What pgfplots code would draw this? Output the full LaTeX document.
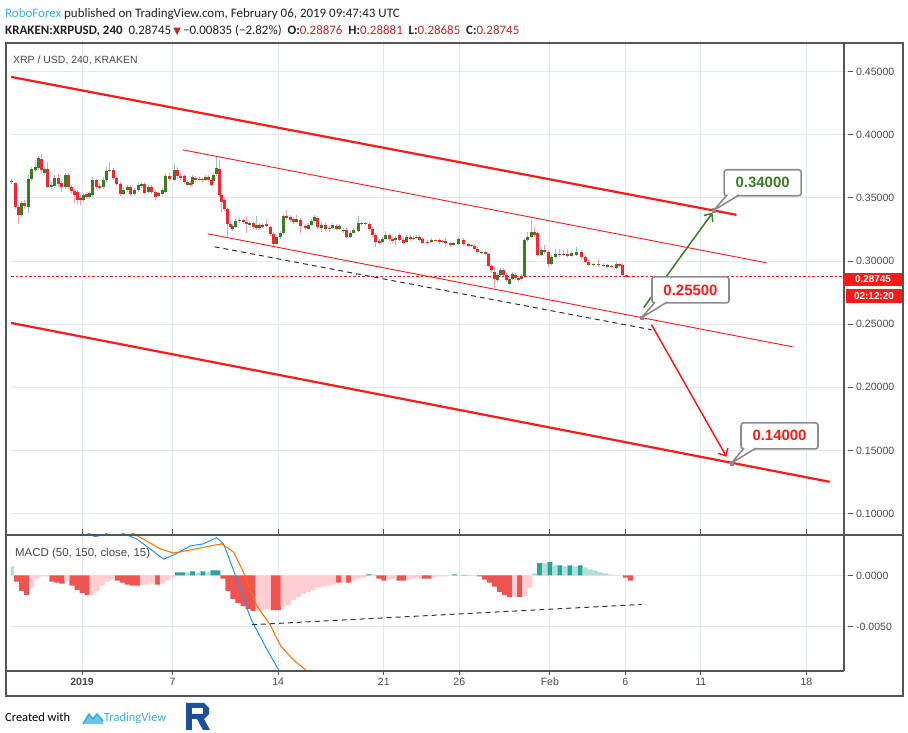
\documentclass[border=0pt]{standalone}
\usepackage{pgfplots}
\pgfplotsset{compat=1.18}
\usepackage{pgfplotstable}
\usepackage{fontspec}
\setmainfont{Liberation Sans}
\newfontfamily\calib{Carlito}
\newfontfamily\djv{DejaVu Sans}
\usetikzlibrary{arrows.meta}

\definecolor{upc}{HTML}{3A7D22}
\definecolor{dnc}{HTML}{F7262E}
\definecolor{upw}{HTML}{9EC4C8}
\definecolor{dnw}{HTML}{F5A0A8}
\definecolor{gridc}{HTML}{E1EAF1}
\definecolor{framec}{HTML}{555555}
\definecolor{txt}{HTML}{4A4A4A}
\definecolor{tvblue}{HTML}{3CB0E4}
\definecolor{hdr}{HTML}{EF5350}
\definecolor{hpk}{HTML}{FFCDD2}
\definecolor{htl}{HTML}{26A69A}
\definecolor{hlt}{HTML}{B2DFDB}
\definecolor{macdc}{HTML}{2196F3}
\definecolor{sigc}{HTML}{FF6D00}
\definecolor{hred}{HTML}{C62828}
\definecolor{trend}{HTML}{FF1A1A}
\definecolor{boxc}{HTML}{8C8C8C}
\definecolor{rlogo}{HTML}{1E4F9C}
\definecolor{headtxt}{HTML}{222222}

% 4h candles, XRP/USD (x = days since 1 Jan 2019)
\pgfplotstableread{
d o h l c
-4.67 .3627 .3650 .3611 .3635
-4.01 .3365 .3476 .3350 .3460
-3.55 .3429 .3682 .3381 .3650
-3.35 .3650 .3746 .3635 .3730
-3.08 .3722 .3801 .3706 .3746
-2.88 .3738 .3833 .3722 .3817
-2.49 .3698 .3746 .3682 .3730
-2.02 .3587 .3627 .3571 .3603
-1.82 .3595 .3682 .3579 .3658
-1.09 .3587 .3698 .3571 .3682
0.10 .3484 .3540 .3468 .3524
0.50 .3508 .3555 .3492 .3540
0.70 .3524 .3666 .3508 .3643
1.42 .3587 .3666 .3571 .3643
1.62 .3643 .3746 .3627 .3714
1.82 .3714 .3785 .3706 .3722
2.75 .3532 .3587 .3524 .3563
3.02 .3563 .3603 .3548 .3587
3.48 .3532 .3579 .3516 .3563
3.75 .3563 .3619 .3548 .3603
3.94 .3595 .3627 .3579 .3611
4.41 .3548 .3603 .3532 .3587
5.07 .3516 .3548 .3508 .3540
5.33 .3532 .3579 .3516 .3563
5.53 .3548 .3690 .3540 .3674
6.13 .3643 .3769 .3635 .3722
6.99 .3603 .3643 .3595 .3627
7.32 .3611 .3682 .3595 .3666
7.79 .3643 .3666 .3635 .3650
8.18 .3643 .3682 .3635 .3666
8.71 .3635 .3698 .3619 .3682
8.91 .3690 .3825 .3674 .3738
9.97 .3254 .3294 .3239 .3278
10.17 .3270 .3334 .3262 .3318
10.44 .3318 .3342 .3302 .3326
11.10 .3286 .3318 .3278 .3302
11.56 .3262 .3357 .3247 .3286
11.96 .3270 .3302 .3262 .3286
12.89 .3136 .3207 .3128 .3191
13.16 .3191 .3239 .3175 .3223
13.35 .3223 .3373 .3207 .3357
14.21 .3310 .3365 .3302 .3334
15.01 .3254 .3302 .3247 .3286
15.21 .3286 .3334 .3278 .3318
15.41 .3318 .3365 .3302 .3350
15.87 .3262 .3310 .3231 .3286
16.40 .3254 .3278 .3231 .3262
16.60 .3262 .3302 .3254 .3286
17.06 .3254 .3294 .3247 .3278
17.33 .3239 .3262 .3223 .3247
17.79 .3191 .3239 .3183 .3223
17.99 .3223 .3262 .3215 .3247
18.32 .3239 .3357 .3231 .3302
19.91 .3152 .3191 .3144 .3175
20.11 .3175 .3239 .3167 .3207
20.78 .3167 .3199 .3128 .3183
21.50 .3152 .3207 .3144 .3191
21.97 .3175 .3199 .3167 .3183
22.17 .3183 .3207 .3175 .3191
23.16 .3152 .3183 .3144 .3167
24.62 .3128 .3152 .3120 .3144
24.95 .3136 .3191 .3128 .3175
26.47 .3064 .3080 .3056 .3072
27.54 .2851 .2906 .2835 .2890
27.73 .2890 .2946 .2874 .2930
28.33 .2819 .2874 .2811 .2858
28.53 .2858 .2914 .2851 .2898
29.13 .2858 .2898 .2843 .2882
29.33 .2882 .3183 .2866 .3167
29.53 .3167 .3231 .3152 .3191
29.79 .3191 .3326 .3183 .3231
30.45 .3049 .3112 .3041 .3088
31.11 .2977 .3049 .2969 .3033
31.38 .3033 .3096 .3025 .3056
31.91 .3049 .3088 .3041 .3056
32.44 .3041 .3080 .3033 .3064
32.77 .3049 .3112 .3041 .3072
33.90 .2969 .2985 .2961 .2977
34.82 .2954 .2977 .2946 .2969
35.42 .2946 .2993 .2938 .2977
}\up
\pgfplotstableread{
d o h l c
-4.41 .3619 .3627 .3413 .3429
-4.21 .3429 .3445 .3294 .3365
-3.81 .3460 .3484 .3413 .3437
-2.68 .3809 .3848 .3698 .3722
-2.29 .3730 .3785 .3579 .3587
-1.56 .3658 .3690 .3587 .3611
-1.36 .3619 .3635 .3548 .3587
-0.89 .3682 .3698 .3571 .3587
-0.70 .3587 .3603 .3532 .3555
-0.50 .3555 .3571 .3460 .3524
-0.30 .3548 .3563 .3452 .3484
-0.10 .3500 .3524 .3445 .3484
0.30 .3532 .3548 .3492 .3508
0.96 .3643 .3650 .3571 .3587
1.16 .3595 .3619 .3563 .3579
2.09 .3722 .3738 .3643 .3658
2.29 .3658 .3666 .3595 .3611
2.55 .3611 .3627 .3516 .3532
3.21 .3587 .3603 .3516 .3532
4.14 .3611 .3627 .3532 .3540
4.61 .3587 .3603 .3532 .3548
4.87 .3548 .3563 .3484 .3508
5.80 .3674 .3698 .3635 .3650
6.33 .3722 .3746 .3650 .3674
6.53 .3674 .3698 .3643 .3658
6.79 .3674 .3690 .3611 .3627
7.19 .3619 .3635 .3587 .3603
7.52 .3658 .3674 .3627 .3643
7.99 .3650 .3658 .3627 .3643
8.38 .3666 .3682 .3627 .3643
8.58 .3643 .3658 .3595 .3603
9.11 .3730 .3801 .3508 .3524
9.24 .3524 .3540 .3389 .3468
9.44 .3484 .3508 .3397 .3413
9.64 .3413 .3429 .3191 .3294
9.84 .3294 .3310 .3254 .3270
10.70 .3326 .3334 .3294 .3310
10.90 .3310 .3357 .3223 .3294
11.37 .3302 .3318 .3254 .3270
11.76 .3286 .3302 .3247 .3262
12.23 .3294 .3334 .3270 .3278
12.49 .3270 .3286 .3199 .3215
12.69 .3215 .3231 .3120 .3136
13.55 .3357 .3405 .3326 .3342
13.82 .3350 .3365 .3310 .3326
14.02 .3334 .3350 .3294 .3310
14.48 .3326 .3342 .3223 .3278
14.81 .3278 .3294 .3247 .3262
15.61 .3342 .3357 .3254 .3270
16.14 .3286 .3302 .3239 .3254
16.87 .3278 .3294 .3247 .3254
17.53 .3247 .3262 .3183 .3191
18.52 .3302 .3310 .3286 .3294
18.79 .3302 .3310 .3286 .3294
19.05 .3294 .3310 .3239 .3254
19.25 .3254 .3270 .3191 .3207
19.45 .3207 .3223 .3112 .3152
19.72 .3160 .3175 .3128 .3144
20.38 .3207 .3223 .3160 .3175
20.58 .3175 .3183 .3144 .3160
21.04 .3207 .3223 .3160 .3167
21.31 .3167 .3183 .3136 .3144
21.77 .3191 .3207 .3160 .3175
22.37 .3191 .3207 .3152 .3167
22.57 .3175 .3191 .3136 .3144
22.90 .3152 .3167 .3128 .3144
23.43 .3167 .3175 .3152 .3160
23.69 .3167 .3183 .3136 .3152
23.89 .3160 .3167 .3144 .3152
24.09 .3160 .3183 .3112 .3144
24.42 .3144 .3152 .3112 .3128
25.28 .3167 .3183 .3120 .3136
25.61 .3136 .3144 .3112 .3120
25.81 .3128 .3136 .3112 .3120
26.01 .3120 .3136 .3088 .3096
26.21 .3096 .3112 .3064 .3072
26.74 .3072 .3080 .3049 .3056
26.94 .3056 .3064 .2954 .2961
27.14 .2961 .2977 .2906 .2930
27.34 .2914 .2954 .2795 .2858
27.93 .2930 .2946 .2874 .2890
28.13 .2890 .2906 .2835 .2851
28.73 .2890 .2906 .2851 .2866
28.93 .2866 .2882 .2835 .2851
29.99 .3231 .3270 .3191 .3207
30.19 .3223 .3239 .3033 .3049
30.65 .3088 .3128 .3056 .3072
30.92 .3072 .3088 .2954 .2977
31.64 .3056 .3096 .3033 .3049
32.17 .3056 .3096 .3025 .3041
33.10 .3072 .3088 .3017 .3033
33.37 .3033 .3049 .2985 .2993
33.57 .2993 .3009 .2961 .2969
34.23 .2977 .3017 .2954 .2969
34.56 .2969 .2985 .2954 .2961
35.09 .2961 .2969 .2946 .2954
35.62 .2977 .2985 .2954 .2961
35.82 .2969 .2985 .2882 .2890
36.08 .28876 .28881 .28685 .28745
}\dn

% MACD histogram, by colour
\pgfplotstableread{
d v
-4.33 -0.0006
-4.00 -0.0015
-3.67 -0.0019
-2.00 -0.0006
-1.67 -0.0007
-1.33 -0.0008
-0.67 -0.0010
-0.33 -0.0014
0.00 -0.0017
0.33 -0.0019
2.33 -0.0005
2.67 -0.0007
3.00 -0.0009
3.33 -0.0010
3.67 -0.0010
5.00 -0.0009
9.33 -0.0003
9.67 -0.0015
10.00 -0.0023
10.33 -0.0027
10.67 -0.0030
11.00 -0.0033
11.33 -0.0035
12.67 -0.0034
13.00 -0.0034
17.00 -0.0007
17.67 -0.0007
19.67 -0.0003
20.00 -0.0005
21.00 -0.0005
21.33 -0.0005
22.67 -0.0003
23.00 -0.0003
26.33 -0.0001
26.67 -0.0004
27.00 -0.0007
27.33 -0.0011
27.67 -0.0016
28.00 -0.0019
28.33 -0.0021
29.00 -0.0021
36.00 -0.0002
36.33 -0.0005
}\hdr
\pgfplotstableread{
d v
-3.33 -0.0012
-3.00 -0.0003
-2.67 -0.0001
-2.33 -0.0001
-1.00 -0.0005
0.67 -0.0019
1.00 -0.0015
1.33 -0.0010
1.67 -0.0006
2.00 -0.0004
4.00 -0.0009
4.33 -0.0009
4.67 -0.0008
5.33 -0.0008
5.67 -0.0005
6.00 -0.0002
11.67 -0.0035
12.00 -0.0034
12.33 -0.0033
13.33 -0.0031
13.67 -0.0029
14.00 -0.0024
14.33 -0.0021
14.67 -0.0018
15.00 -0.0016
15.33 -0.0014
15.67 -0.0012
16.00 -0.0011
16.33 -0.0010
16.67 -0.0009
17.33 -0.0006
18.00 -0.0005
18.33 -0.0003
18.67 -0.0002
20.33 -0.0004
20.67 -0.0003
21.67 -0.0004
22.00 -0.0003
22.33 -0.0003
23.33 -0.0002
23.67 -0.0001
24.00 -0.0001
24.33 -0.00005
28.67 -0.0021
29.33 -0.0020
29.67 -0.0012
}\hpk
\pgfplotstableread{
d v
6.33 0.0003
6.67 0.0003
7.33 0.0004
8.00 0.0004
8.67 0.0005
9.00 0.0005
19.00 0.0001
24.67 0.0001
25.33 0.00005
30.33 0.0012
31.00 0.0013
31.67 0.0010
32.33 0.0010
33.00 0.0010
}\htl
\pgfplotstableread{
d v
-4.67 0.0009
7.00 0.0003
7.67 0.0003
8.33 0.0003
19.33 0.0001
25.00 0.00005
25.67 0.00005
26.00 0.00003
30.00 0.0002
30.67 0.0012
31.33 0.0010
32.00 0.0009
32.67 0.0009
33.33 0.0008
33.67 0.0006
34.00 0.0005
34.33 0.0003
34.67 0.0002
35.00 0.0001
35.33 0.00003
}\hlt

\pgfplotsset{
  tvaxis/.style={
    scale only axis, width=837bp, anchor=south west,
    xmin=-4.738, xmax=50.73,
    axis line style={draw=none},
    grid=major, major grid style={gridc, line width=0.8bp},
    xtick={0,6,13,20,25,31,36,41,48},
    ytick pos=right, yticklabel pos=right,
    tick align=outside, major tick length=5bp,
    tick style={framec, line width=0.8bp},
    scaled y ticks=false,
    /pgf/number format/assume math mode=true,
    tick label style={font=\fontsize{10.6}{12}\selectfont, text=txt},
  },
  candle/.style={draw=none, forget plot,
    error bars/.cd, y dir=plus, y explicit, error mark=none,
    error bar style={solid, draw=#1}},
}
\tikzset{
  callout/.style={draw=boxc, line width=1.6bp, fill=white, rounded corners=2.5bp,
    minimum width=77bp, minimum height=26bp, inner sep=0pt,
    font=\bfseries\fontsize{15}{17}\selectfont},
}

\begin{document}
\begin{tikzpicture}[x=1bp, y=1bp]
\useasboundingbox (0,0) rectangle (908,733);
\fill[white] (0,0) rectangle (908,733);

% ---------- price panel ----------
\begin{axis}[tvaxis, at={(7,159.3)}, height=492bp, clip=false,
  ymin=0.0855, ymax=0.4751,
  xticklabels={}, x tick style={draw=none},
  ytick={0.10,0.15,0.20,0.25,0.30,0.35,0.40,0.45},
  yticklabel style={/pgf/number format/.cd, fixed, fixed zerofill, precision=5},
]
% wicks
\addplot[candle=upw, error bar style={line width=0.9bp}] table[x=d, y=l, y error plus expr=\thisrow{h}-\thisrow{l}] {\up};
\addplot[candle=dnw, error bar style={line width=0.9bp}] table[x=d, y=l, y error plus expr=\thisrow{h}-\thisrow{l}] {\dn};
% bodies
\addplot[candle=upc, error bar style={line width=2.6bp}] table[x=d, y=o, y error plus expr=\thisrow{c}-\thisrow{o}] {\up};
\addplot[candle=dnc, error bar style={line width=2.6bp}] table[x=d, y=c, y error plus expr=\thisrow{o}-\thisrow{c}] {\dn};

% last price line
\addplot[trend, line width=0.9bp, dash pattern=on 2.5bp off 2bp] coordinates {(-4.70,0.28745) (50.70,0.28745)};

% channels
\addplot[trend, line width=2.2bp] coordinates {(-4.70,0.4457) (43.37,0.3365)};
\addplot[trend, line width=2.2bp] coordinates {(-4.70,0.2509) (49.54,0.1251)};
\addplot[trend, line width=0.9bp] coordinates {(6.66,0.3880) (45.36,0.2985)};
\addplot[trend, line width=0.9bp] coordinates {(8.32,0.3215) (47.09,0.2320)};
\addplot[black!80, line width=1bp, dash pattern=on 5bp off 4bp] coordinates {(8.78,0.3112) (37.74,0.2455)};

% arrows
\addplot[upc, line width=1.5bp, -{Straight Barb[length=6bp,width=11bp]}] coordinates {(37.21,0.2629) (41.78,0.3381)};
\addplot[trend, line width=1.5bp, -{Straight Barb[length=6bp,width=11bp]}] coordinates {(37.74,0.2494) (42.71,0.1449)};

% callouts
\node[callout, text=upc] at (axis cs:45.10,0.3619) {0.34000};
\node[callout, text=trend] at (axis cs:40.32,0.2771) {0.25500};
\node[callout, text=trend] at (axis cs:46.22,0.1615) {0.14000};
\fill[white] (axis cs:42.75,0.3528) -- (axis cs:41.85,0.3400) -- (axis cs:43.54,0.3528) -- cycle;
\draw[boxc, line width=1.6bp, line join=round] (axis cs:42.75,0.3522) -- (axis cs:41.85,0.3400) -- (axis cs:43.54,0.3522);
\fill[white] (axis cs:37.97,0.2680) -- (axis cs:37.08,0.2550) -- (axis cs:38.76,0.2680) -- cycle;
\draw[boxc, line width=1.6bp, line join=round] (axis cs:37.97,0.2674) -- (axis cs:37.08,0.2550) -- (axis cs:38.76,0.2674);
\fill[white] (axis cs:43.87,0.1524) -- (axis cs:43.04,0.1400) -- (axis cs:44.66,0.1524) -- cycle;
\draw[boxc, line width=1.6bp, line join=round] (axis cs:43.87,0.1518) -- (axis cs:43.04,0.1400) -- (axis cs:44.66,0.1518);
\addplot[only marks, mark=square*, mark size=1.8bp, color=boxc] coordinates {(41.85,0.3400) (37.08,0.2550) (43.04,0.1400)};
\end{axis}

% ---------- MACD panel ----------
\begin{axis}[tvaxis, at={(7,62)}, height=136bp,
  ymin=-0.00924, ymax=0.00409,
  xticklabels={\textbf{2019},7,14,21,26,Feb,6,11,18},
  ytick={-0.005,0},
  yticklabel style={/pgf/number format/.cd, fixed, fixed zerofill, precision=4},
]
\addplot[ybar, bar width=0.335, bar shift=0pt, fill=hdr, draw=none] table[x=d, y=v] {\hdr};
\addplot[ybar, bar width=0.335, bar shift=0pt, fill=hpk, draw=none] table[x=d, y=v] {\hpk};
\addplot[ybar, bar width=0.335, bar shift=0pt, fill=htl, draw=none] table[x=d, y=v] {\htl};
\addplot[ybar, bar width=0.335, bar shift=0pt, fill=hlt, draw=none] table[x=d, y=v] {\hlt};
% MACD line
\addplot[macdc, line width=1bp] coordinates {
(-1.5,0.0052) (0.50,0.0041) (0.83,0.0038) (1.16,0.0039) (1.49,0.0040) (2.09,0.0046)
(2.75,0.0041) (3.61,0.0036) (5.40,0.0016) (6.06,0.0020) (7.19,0.0029) (8.05,0.0031)
(8.91,0.0037) (9.38,0.0031) (10.24,-0.0003) (11.17,-0.0042) (12.23,-0.0072)
(12.89,-0.0089) (13.35,-0.0101)};
% signal line
\addplot[sigc, line width=1bp] coordinates {
(-1.23,0.0058) (1.42,0.0052) (3.41,0.0041) (5.20,0.0026) (6.06,0.0022) (7.19,0.0025)
(8.52,0.0029) (9.24,0.0031) (10.04,0.0023) (10.70,0.0003) (11.56,-0.0029)
(12.49,-0.0049) (13.16,-0.0069) (14.02,-0.0083) (14.68,-0.0091) (15.67,-0.0103)};
\addplot[black!80, line width=1bp, dash pattern=on 5bp off 4bp] coordinates {(11.25,-0.00483) (37.08,-0.00284)};
\end{axis}

% ---------- frame ----------
\draw[framec, line width=1.3bp] (6,37) rectangle (903,690);
\draw[framec, line width=1.3bp] (844,690) -- (844,62);
\draw[framec, line width=1.3bp] (6,198) -- (903,198);
\draw[framec, line width=1.3bp] (6,62) -- (844,62);

% legends inside panels
\node[anchor=base west, inner sep=0, text=txt, font=\fontsize{10.5}{12}\selectfont] at (13,669) {XRP / USD, 240, KRAKEN};
\node[anchor=base west, inner sep=0, text=txt, font=\fontsize{11.5}{13}\selectfont] at (15,176) {MACD (50, 150, close, 15)};

% last price / countdown labels
\fill[trend] (844,447) rectangle (902,460);
\node[text=white, font=\bfseries\fontsize{10}{12}\selectfont, inner sep=0] at (873,453.5) {0.28745};
\fill[trend] (846,430) rectangle (902,444);
\node[text=white, font=\bfseries\fontsize{10}{12}\selectfont, inner sep=0] at (874,437) {02:12:20};

% header
\node[anchor=base west, inner sep=0, text=headtxt] at (5,715) {\calib\fontsize{13}{15}\selectfont\textcolor{tvblue}{RoboForex} published on TradingView.com, February 06, 2019 09:47:43 UTC};
\node[anchor=base west, inner sep=0, text=headtxt] at (5,698) {\calib\fontsize{13}{15}\selectfont\textbf{KRAKEN:XRPUSD, 240}\ \ 0.28745\,{\djv\fontsize{10}{12}\selectfont\textcolor{hred}{▼}}\,−0.00835 (−2.82\%)\ \ \textbf{O:}\textcolor{hred}{0.28876}\ \ \textbf{H:}\textcolor{hred}{0.28881}\ \ \textbf{L:}\textcolor{hred}{0.28685}\ \ \textbf{C:}\textcolor{hred}{0.28745}};

% footer
\node[anchor=base west, inner sep=0, text=black] at (5,11) {\calib\fontsize{12.5}{14}\selectfont Created with};
\fill[tvblue!75] (83,9) -- (89,19) -- (93,14) -- (97,19) -- (103,12) -- (103,9) -- cycle;
\draw[tvblue, line width=1.6bp, line join=round] (83,9) -- (89,19) -- (93,14) -- (97,19) -- (103,12);
\node[anchor=base west, inner sep=0, text=tvblue] at (104,11) {\calib\fontsize{12.5}{14}\selectfont TradingView};
\fill[rlogo] (186,3) rectangle (192,30);
\fill[rlogo] (186,30) -- (204,30) -- (209,25) -- (209,19) -- (204,14) -- (192,14) -- (192,19) -- (203,19) -- (203,25) -- (186,25) -- cycle;
\fill[rlogo] (197,14) -- (204,14) -- (210,3) -- (203,3) -- cycle;
\end{tikzpicture}
\end{document}
